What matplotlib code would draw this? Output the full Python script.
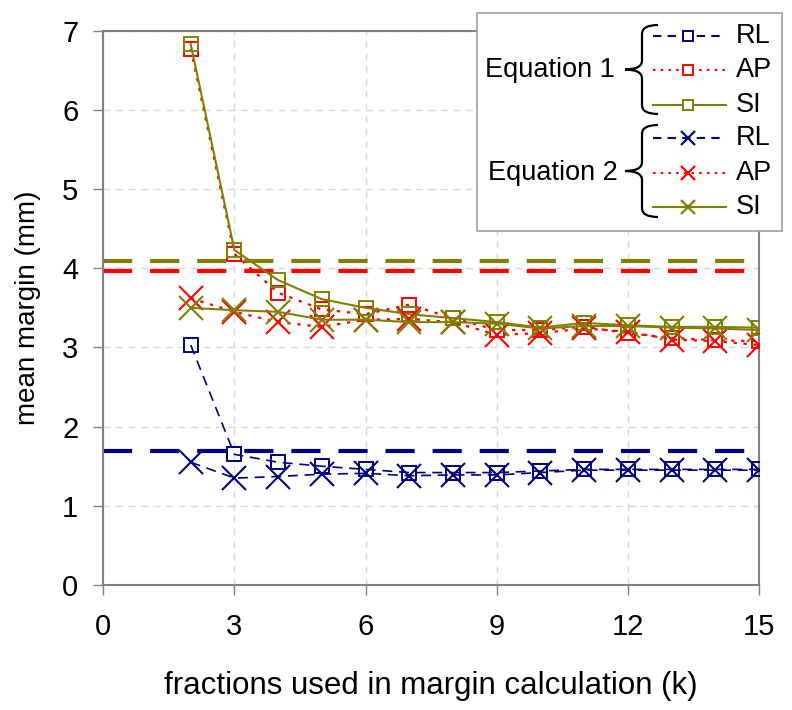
import matplotlib
matplotlib.use("Agg")
import matplotlib.pyplot as plt
from matplotlib.path import Path
from matplotlib.patches import PathPatch, Rectangle
from matplotlib.lines import Line2D

plt.rcParams['font.family'] = ['Liberation Sans', 'DejaVu Sans']

# fractions k
k = [2, 3, 4, 5, 6, 7, 8, 9, 10, 11, 12, 13, 14, 15]

# Equation 1 (squares)
eq1_rl = [3.03, 1.65, 1.55, 1.50, 1.46, 1.42, 1.42, 1.42, 1.44, 1.46, 1.46, 1.46, 1.46, 1.46]
eq1_ap = [6.77, 4.18, 3.69, 3.48, 3.42, 3.54, 3.37, 3.22, 3.22, 3.26, 3.18, 3.12, 3.09, 3.08]
eq1_si = [6.83, 4.23, 3.85, 3.61, 3.50, 3.42, 3.37, 3.32, 3.25, 3.31, 3.28, 3.26, 3.26, 3.25]

# Equation 2 (crosses)
eq2_rl = [1.55, 1.35, 1.37, 1.40, 1.41, 1.38, 1.39, 1.39, 1.42, 1.45, 1.45, 1.45, 1.45, 1.45]
eq2_ap = [3.62, 3.45, 3.32, 3.26, 3.35, 3.36, 3.32, 3.16, 3.18, 3.24, 3.20, 3.10, 3.08, 3.03]
eq2_si = [3.50, 3.47, 3.45, 3.35, 3.35, 3.32, 3.32, 3.30, 3.24, 3.27, 3.27, 3.25, 3.24, 3.22]

# horizontal reference levels
ref_rl = 1.69
ref_ap = 3.96
ref_si = 4.09

NAVY = '#000080'
RED = '#ff0000'
OLIVE = '#808000'
GREY = '#808080'

W, H = 792, 710
fig = plt.figure(figsize=(W / 100, H / 100), dpi=100)
ax = fig.add_axes([103.3 / W, 1 - 585 / H, (759 - 103.3) / W, (585 - 30.7) / H])

# reference lines
for yv, col in [(ref_rl, NAVY), (ref_ap, RED), (ref_si, OLIVE)]:
    ax.hlines(yv, 0, 15, colors=col, linewidth=3.0, linestyles=(0, (7, 4.3)), zorder=2)

sq = dict(marker='s', markersize=10.5, markerfacecolor='none', markeredgewidth=1.4)
cx = dict(marker='x', markersize=17, markeredgewidth=1.5)

ax.plot(k, eq1_rl, color=NAVY, linestyle=(0, (6, 4)), linewidth=1.2, **sq, zorder=3)
ax.plot(k, eq1_ap, color=RED, linestyle=(0, (1.5, 3)), linewidth=1.6, **sq, zorder=3)
ax.plot(k, eq1_si, color=OLIVE, linestyle='-', linewidth=1.5, **sq, zorder=3)
ax.plot(k, eq2_rl, color=NAVY, linestyle=(0, (6, 4)), linewidth=1.2, **cx, zorder=4)
ax.plot(k, eq2_ap, color=RED, linestyle=(0, (1.5, 3)), linewidth=1.6, **cx, zorder=4)
ax.plot(k, eq2_si, color=OLIVE, linestyle='-', linewidth=1.5, **cx, zorder=4)

ax.set_xlim(0, 15)
ax.set_ylim(0, 7)
ax.set_xticks([0, 3, 6, 9, 12, 15])
ax.set_yticks(range(0, 8))
ax.grid(True, color='#d9d9d9', linestyle=(0, (5, 4)), linewidth=1.0)
ax.set_axisbelow(True)
for s in ax.spines.values():
    s.set_color(GREY)
    s.set_linewidth(1.5)
ax.tick_params(colors=GREY, labelcolor='black', length=7, width=1.0, labelsize=21)
ax.tick_params(axis='y', pad=11)
ax.tick_params(axis='x', pad=13)
ax.set_xlabel('fractions used in margin calculation (k)', fontsize=22.5, labelpad=22)
ax.set_ylabel('mean margin (mm)', fontsize=20, labelpad=15)


# ---- custom legend with braces, drawn in figure pixel coordinates ----
def fx(px):
    return px / W


def fy(py):
    return 1 - py / H


fig.patches.append(Rectangle((fx(477), fy(231)), fx(782) - fx(477), fy(13) - fy(231),
                             transform=fig.transFigure, facecolor='white',
                             edgecolor='#a0a0a0', linewidth=1.2, zorder=10))


def brace(x_end, x_mid, x_tip, y_top, y_bot, r=9):
    yc = (y_top + y_bot) / 2
    pts = [(x_end, y_top), (x_mid, y_top), (x_mid, y_top + r),
           (x_mid, yc - r), (x_mid, yc), (x_tip, yc),
           (x_mid, yc), (x_mid, yc + r),
           (x_mid, y_bot - r), (x_mid, y_bot), (x_end, y_bot)]
    codes = [Path.MOVETO, Path.CURVE3, Path.CURVE3,
             Path.LINETO, Path.CURVE3, Path.CURVE3,
             Path.CURVE3, Path.CURVE3,
             Path.LINETO, Path.CURVE3, Path.CURVE3]
    p = Path([(fx(a), fy(b)) for a, b in pts], codes)
    fig.patches.append(PathPatch(p, transform=fig.transFigure, facecolor='none',
                                 edgecolor='black', linewidth=1.6, zorder=11))


entries = [
    ('RL', NAVY, (0, (4, 3)), 's'),
    ('AP', RED, (0, (1.2, 2.5)), 's'),
    ('SI', OLIVE, '-', 's'),
    ('RL', NAVY, (0, (4, 3)), 'x'),
    ('AP', RED, (0, (1.2, 2.5)), 'x'),
    ('SI', OLIVE, '-', 'x'),
]
row_y = [36, 70, 105, 138, 173, 207]
for (lab, col, ls, mk), yy in zip(entries, row_y):
    fig.add_artist(Line2D([fx(653), fx(726)], [fy(yy), fy(yy)], transform=fig.transFigure,
                          color=col, linestyle=ls, linewidth=1.5, zorder=12))
    if mk == 's':
        fig.add_artist(Line2D([fx(688)], [fy(yy)], transform=fig.transFigure, color=col,
                              marker='s', markersize=7, markerfacecolor='white',
                              markeredgewidth=1.4, linestyle='none', zorder=13))
    else:
        fig.add_artist(Line2D([fx(688)], [fy(yy)], transform=fig.transFigure, color=col,
                              marker='x', markersize=10, markeredgewidth=1.6,
                              linestyle='none', zorder=13))
    fig.text(fx(736), fy(yy), lab, fontsize=19.5, va='center', ha='left', zorder=13)

fig.text(fx(615), fy(70), 'Equation 1', fontsize=19.5, va='center', ha='right', zorder=13)
fig.text(fx(618), fy(173), 'Equation 2', fontsize=19.5, va='center', ha='right', zorder=13)
brace(658, 642, 625, 25, 114)
brace(658, 642, 625, 125, 217)

fig.savefig('out.png', dpi=100)
